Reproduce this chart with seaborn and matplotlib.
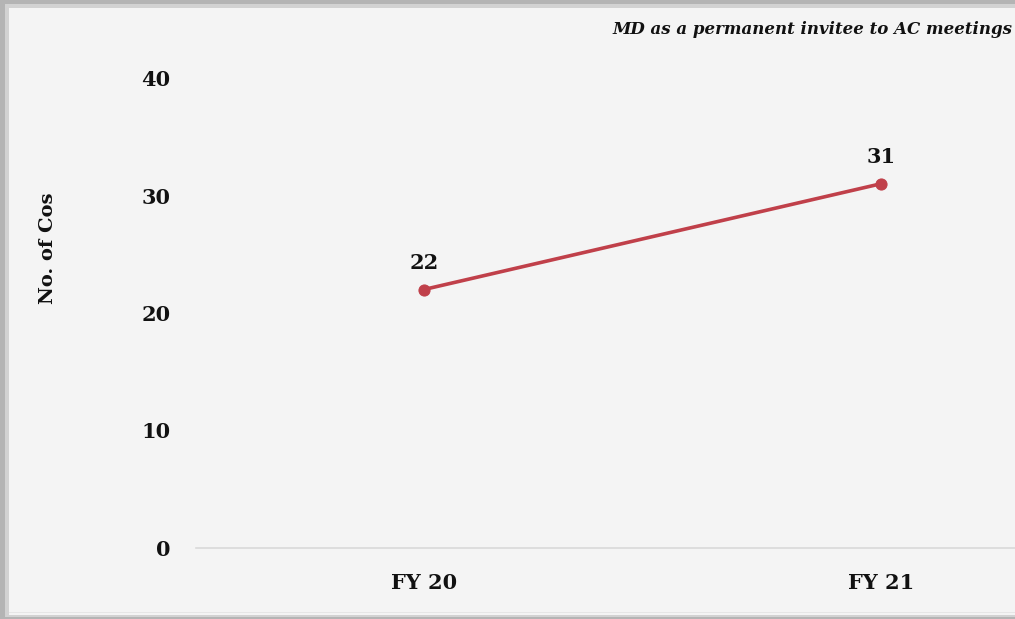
import matplotlib
matplotlib.use("Agg")
import matplotlib.pyplot as plt
import seaborn as sns
import pandas as pd
from matplotlib.patches import Rectangle

years = ["FY 20", "FY 21"]
companies = [22, 31]
y_ticks = [0, 10, 20, 30, 40]
title = "MD as a permanent invitee to AC meetings"
y_label = "No. of Cos"

df = pd.DataFrame({"year": years, "count": companies})

sns.set_theme(style="white")
plt.rcParams["font.family"] = ["DejaVu Serif"]

BG = "#f4f4f4"
TXT = "#111111"
fig = plt.figure(figsize=(10.15, 6.19), dpi=100)
fig.patch.set_facecolor("#b4b4b4")
# soft shadow band then inner panel
fig.patches.append(Rectangle((5 / 1015, 2 / 619), 1.0, (619 - 6) / 619,
                             transform=fig.transFigure, facecolor="#d2d2d2",
                             edgecolor="none", zorder=-3))
fig.patches.append(Rectangle((9 / 1015, 4 / 619), 1.0, (619 - 4 - 8) / 619,
                             transform=fig.transFigure, facecolor=BG,
                             edgecolor="none", zorder=-2))
fig.patches.append(Rectangle((9 / 1015, 6 / 619), 1.0, 1.5 / 619,
                             transform=fig.transFigure, facecolor="#e6e6e6",
                             edgecolor="none", zorder=-1))

ax = fig.add_axes([195.5 / 1015, 71 / 619, 914 / 1015, 470 / 619])
ax.set_facecolor("none")
ax.set_zorder(2)

sns.lineplot(data=df, x="year", y="count", ax=ax, color="#c0404a",
             linewidth=2.6, marker="o", markersize=8,
             markeredgecolor="#c0404a", sort=False)

for i, v in enumerate(companies):
    ax.annotate(str(v), (i, v), xytext=(0, 12), textcoords="offset points",
                ha="center", va="bottom", fontsize=15, fontweight="bold",
                color=TXT)

ax.set_xlim(-0.5, 1.5)
ax.set_ylim(0, 40)
ax.set_yticks(y_ticks)
ax.set_yticklabels([str(t) for t in y_ticks], fontsize=15, fontweight="bold",
                   color=TXT)
ax.set_xticks(range(len(years)))
ax.set_xticklabels(years, fontsize=15, fontweight="bold", color=TXT)
ax.tick_params(axis="y", length=0, pad=18)
ax.tick_params(axis="x", length=0, pad=18)

for s in ["top", "right", "left"]:
    ax.spines[s].set_visible(False)
ax.spines["bottom"].set_color("#d9d9d9")
ax.spines["bottom"].set_linewidth(1.2)

ax.set_xlabel("")
ax.set_ylabel(y_label, fontsize=14, fontweight="bold", color=TXT)
ax.yaxis.set_label_coords(-(195.5 - 57) / 914, (548 - 248) / 470)

fig.text(1012 / 1015, 1 - 30 / 619, title, ha="right", va="center",
         fontsize=12, fontweight="bold", fontstyle="italic", color=TXT)

fig.savefig("out.png", dpi=100, facecolor=fig.get_facecolor())
